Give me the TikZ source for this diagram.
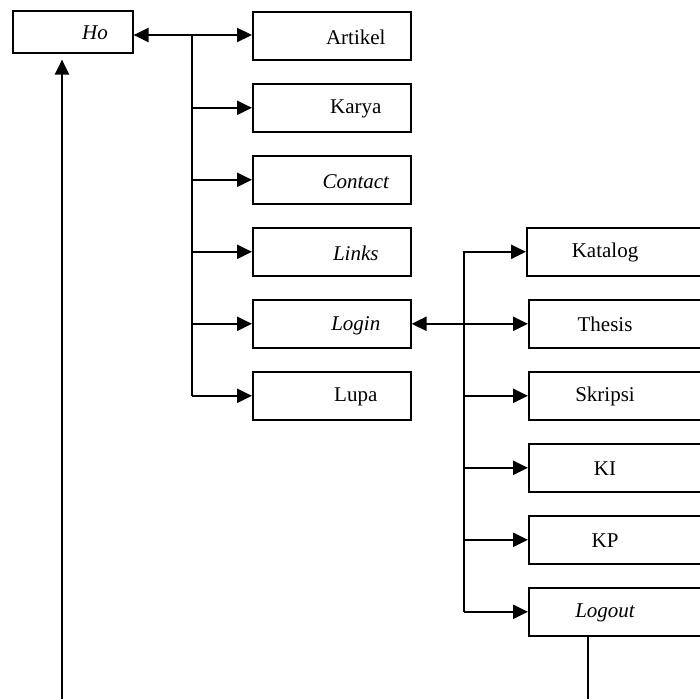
\documentclass[tikz,border=0pt]{standalone}
\usepackage{fontspec}
\setmainfont{Liberation Serif}
\usetikzlibrary{arrows.meta}
\begin{document}
\begin{tikzpicture}[x=1pt,y=-1pt,
  box/.style={draw,line width=1.6pt,rectangle,inner sep=0pt,anchor=north west},
  lbl/.style={font=\fontsize{21}{24}\selectfont,inner sep=0pt},
  conn/.style={line width=2.2pt,-{Triangle[length=15pt,width=14pt]}},
  conn2/.style={line width=2.2pt,{Triangle[length=15pt,width=14pt]}-{Triangle[length=15pt,width=14pt]}},
  plain/.style={line width=2.2pt}]
\useasboundingbox (0,0) rectangle (700,698);
% left column
\node[box,minimum width=120pt,minimum height=42pt] (ho) at (12,10) {};
\node[lbl] at (95,32.5) {\itshape Ho};
\foreach \n/\t/\y in {artikel/Artikel/11,karya/Karya/83,contact/{\itshape Contact}/155,links/{\itshape Links}/227,login/{\itshape Login}/299,lupa/Lupa/371}{
  \node[box,minimum width=158pt,minimum height=48pt] (\n) at (252,\y) {};
  \node[lbl] at ([xshift=24pt,yshift=-1.5pt]\n.center) {\t};
}
% right column
\node[box,minimum width=180pt,minimum height=48pt] (katalog) at (526,227) {};
\node[lbl] at (605,252.5) {Katalog};
\foreach \n/\t/\y in {thesis/Thesis/299,skripsi/Skripsi/371,ki/KI/443,kp/KP/515,logout/{\itshape Logout}/587}{
  \node[box,minimum width=180pt,minimum height=48pt] (\n) at (528,\y) {};
  \node[lbl] at (605,\y+25.5) {\t};
}
% connectors, main menu
\coordinate (t1) at (192,35);
\draw[conn2] (ho.east |- t1) -- (artikel.west |- t1);
\draw[plain] (t1) -- (t1 |- lupa.west);
\foreach \n in {karya,contact,links,login,lupa}{
  \draw[conn] (t1 |- \n.west) -- (\n.west);
}
% login submenu
\coordinate (t2) at (464,251);
\draw[conn2] (login.east) -- (thesis.west);
\draw[plain] (t2) -- (t2 |- logout.west);
\foreach \n in {katalog,skripsi,ki,kp,logout}{
  \draw[conn] (t2 |- \n.west) -- (\n.west);
}
% return path
\coordinate (b1) at (588,702);
\coordinate (b2) at (62,702);
\draw[plain] (logout.south -| b1) -- (b1);
\draw[conn] (b2) -- ([yshift=-6pt]ho.south -| b2);
\end{tikzpicture}
\end{document}
